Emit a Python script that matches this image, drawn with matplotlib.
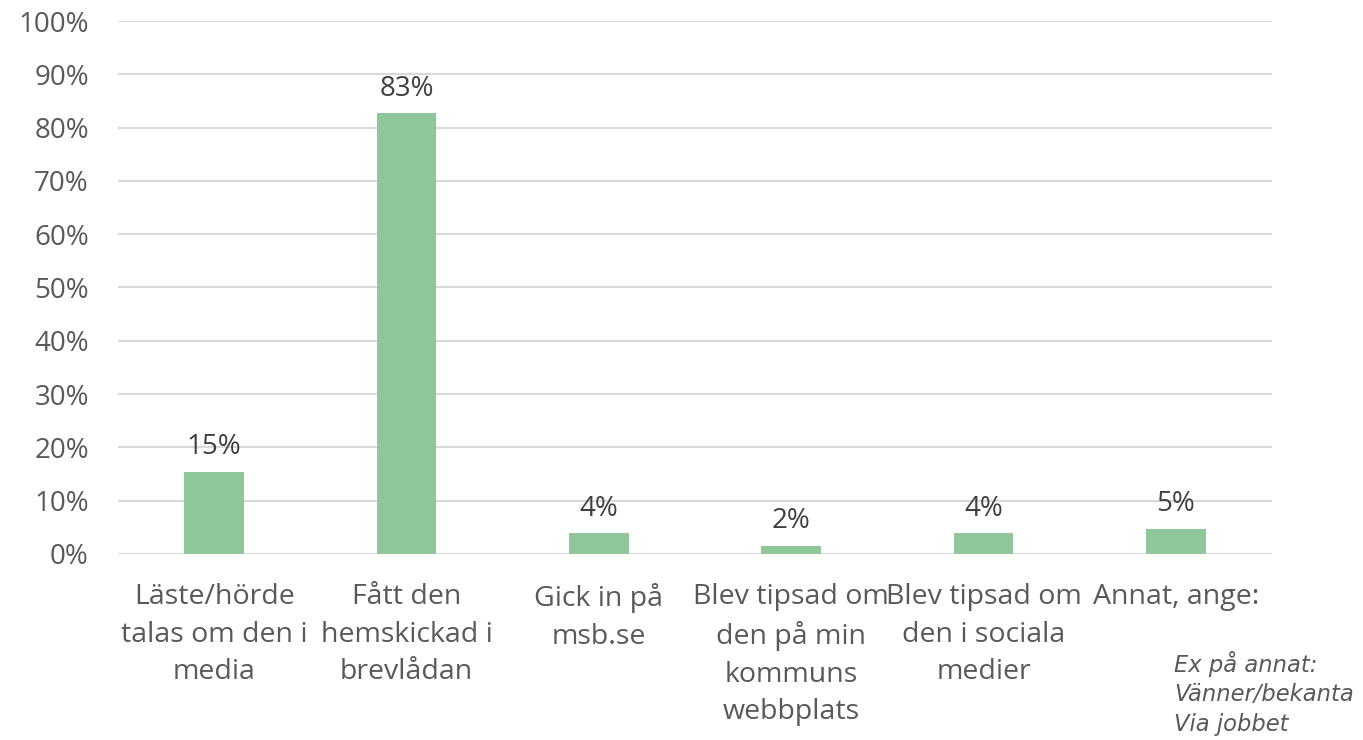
import numpy as np
import matplotlib
matplotlib.use('Agg')
from matplotlib import pyplot as plt

plt.rcParams['font.family'] = ['Open Sans', 'DejaVu Sans']

categories = ['Läste/hörde\ntalas om den i\nmedia',
              'Fått den\nhemskickad i\nbrevlådan',
              'Gick in på\nmsb.se',
              'Blev tipsad om\nden på min\nkommuns\nwebbplats',
              'Blev tipsad om\nden i sociala\nmedier',
              'Annat, ange:']
values = [15.4, 82.7, 3.9, 1.5, 3.9, 4.7]
labels = ['15%', '83%', '4%', '2%', '4%', '5%']
yticks = np.arange(0, 101, 10)
note = 'Ex på annat:\nVänner/bekanta\nVia jobbet'

txt = '#595959'
fig = plt.figure(figsize=(13.63, 7.40), dpi=100)
ax = fig.add_axes([0.0866, 0.2514, 0.8466, 0.7202])

x = np.arange(len(categories))
ax.bar(x, values, width=0.31, color='#8ec89a', zorder=3)
for xi, v, l in zip(x, values, labels):
    ax.text(xi, v + 2.0, l, ha='center', va='bottom', fontsize=20, color='#404040')

ax.set_ylim(0, 100)
ax.set_xlim(-0.5, len(categories) - 0.5)
ax.set_yticks(yticks)
ax.set_yticklabels(['%d%%' % t for t in yticks], fontsize=20, color=txt)
ax.set_xticks(x)
ax.set_xticklabels(categories, fontsize=20.5, color=txt, va='top', linespacing=1.45)
ax.tick_params(axis='both', length=0)
ax.tick_params(axis='y', pad=21)
ax.tick_params(axis='x', pad=21)
ax.grid(axis='y', color='#d9d9d9', linewidth=1.5, zorder=0)
for s in ['top', 'right', 'left', 'bottom']:
    ax.spines[s].set_visible(False)
ax.axhline(0, color='#d9d9d9', linewidth=1.5, zorder=2)

fig.text(1174 / 1363, 1 - 651 / 740, note, ha='left', va='top', fontsize=16.3,
         style='italic', family='DejaVu Sans', color=txt, linespacing=1.35)

fig.savefig('out.png', dpi=100)
